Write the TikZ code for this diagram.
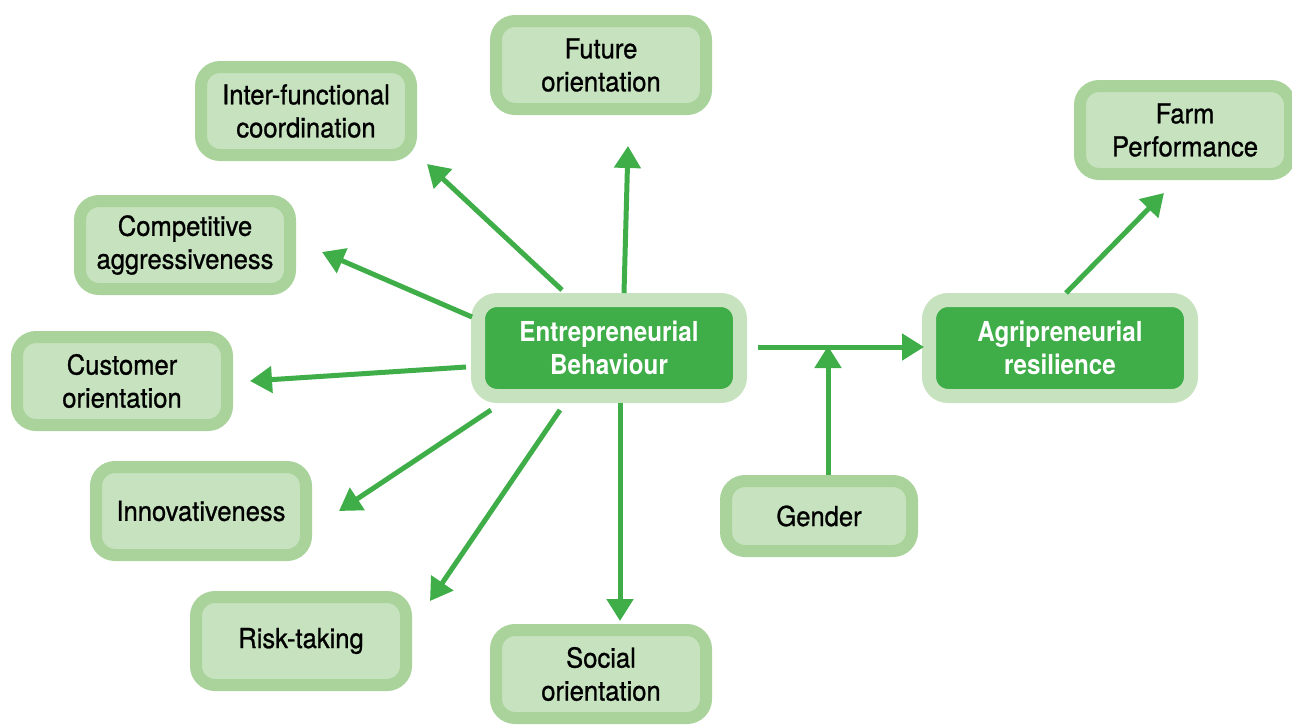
\documentclass[tikz,border=0pt]{standalone}
\usepackage{fontspec}
\setmainfont{TeX Gyre Heros}[
  UprightFeatures={FakeStretch=0.93,FakeBold=0.9},
  BoldFeatures={FakeStretch=0.88}]
\usetikzlibrary{arrows.meta,shadows}
\definecolor{leafdark}{HTML}{3FAE49}
\definecolor{leafrim}{HTML}{A9D39B}
\definecolor{leafpale}{HTML}{C6E2BE}
\tikzset{
  factor/.style={draw=leafrim, line width=12pt, fill=leafpale, rounded corners=19pt,
    minimum width=210pt, minimum height=88pt, align=center, text=black,
    font=\fontsize{27.5}{33}\selectfont,
    drop shadow={opacity=0.25, shadow xshift=3pt, shadow yshift=-4pt}},
  hub/.style={draw=leafpale, line width=14pt, fill=leafdark, rounded corners=19pt,
    minimum width=262pt, minimum height=96pt, align=center, text=white,
    font=\bfseries\fontsize{27.5}{33}\selectfont,
    drop shadow={opacity=0.25, shadow xshift=3pt, shadow yshift=-4pt}},
  link/.style={draw=leafdark, line width=5pt,
    -{Triangle[width=26pt,length=22pt]}}
}
\begin{document}
\begin{tikzpicture}[x=1pt,y=-1pt]
\useasboundingbox (0,0) rectangle (1292,724);
% factor boxes
\node[factor] (fut) at (601,65) {Future\\orientation};
\node[factor] (ifc) at (306,111) {Inter-functional\\coordination};
\node[factor] (cag) at (185,245) {Competitive\\aggressiveness};
\node[factor] (cus) at (122,381) {Customer\\orientation};
\node[factor] (inn) at (201,511) {Innovativeness};
\node[factor] (risk) at (301,641) {Risk-taking};
\node[factor] (soc) at (601,674) {Social\\orientation};
\node[factor, minimum width=186pt, minimum height=70pt] (gen) at (819,516) {Gender};
\node[factor] (farm) at (1185,130) {Farm\\Performance};
% central boxes
\node[hub] (eb) at (609,348) {Entrepreneurial\\Behaviour};
\node[hub] (ar) at (1060,348) {Agripreneurial\\resilience};
% arrow ends
\coordinate (hfut) at (628,146);
\coordinate (hifc) at (427,164);
\coordinate (hcag) at (322,252);
\coordinate (hcus) at (250,381);
\coordinate (hinn) at (339,511);
\coordinate (hrisk) at (430,601);
\coordinate (hsoc) at (620,621);
\coordinate (ebr) at (758,347);
\coordinate (arl) at (924,347);
\coordinate (junc) at (828,346);
\coordinate (hfarm) at (1164,193);
% arrows out of the hub
\draw[link] (624,293) -- (hfut);
\draw[link] (562,290) -- (hifc);
\draw[link] (472,317) -- (hcag);
\draw[link] (466,367) -- (hcus);
\draw[link] (491,410) -- (hinn);
\draw[link] (560,410) -- (hrisk);
\draw[link] (620,403) -- (hsoc);
\draw[link] (ebr) -- (arl);
\draw[link] (gen.north -| junc) -- (junc);
\draw[link] (1066,293) -- (hfarm);
\end{tikzpicture}
\end{document}
